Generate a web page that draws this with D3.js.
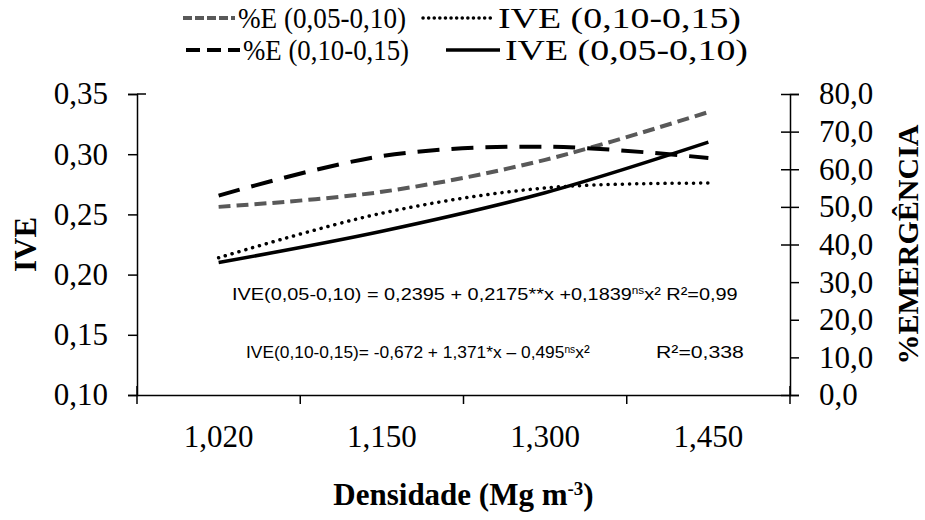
<!DOCTYPE html>
<html>
<head>
<meta charset="utf-8">
<script src="https://cdn.jsdelivr.net/npm/d3@7"></script>
<style>
body { margin: 0; background: #fff; }
svg text { font-family: "Liberation Serif", "Times New Roman", serif; fill: #000; }
svg text.eq { font-family: "Liberation Sans", Arial, sans-serif; }
</style>
</head>
<body>
<div id="chart"></div>
<script>
// data
const categories = ["1,020", "1,150", "1,300", "1,450"]
const ive0510 = [0.210, 0.236, 0.268, 0.310]
const ive1015 = [0.214, 0.251, 0.272, 0.276]
const emerg0510 = [50.0, 54.0, 62.5, 75.2]
const emerg1015 = [53.0, 63.5, 66.0, 63.0]
const leftTicks = [0.10, 0.15, 0.20, 0.25, 0.30, 0.35]
const rightTicks = [0, 10, 20, 30, 40, 50, 60, 70, 80]

const W = 925, H = 520
const MARGIN = { TOP: 94, BOTTOM: 125, LEFT: 137, RIGHT: 135 }
const WIDTH = W - MARGIN.LEFT - MARGIN.RIGHT
const HEIGHT = H - MARGIN.TOP - MARGIN.BOTTOM

const svg = d3.select("#chart").append("svg")
	.attr("width", W)
	.attr("height", H)

const g = svg.append("g")
	.attr("transform", `translate(${MARGIN.LEFT}, ${MARGIN.TOP})`)

const x = d3.scaleBand().domain(categories).range([0, WIDTH])
const yL = d3.scaleLinear().domain([0.10, 0.35]).range([HEIGHT, 0])
const yR = d3.scaleLinear().domain([0, 80]).range([HEIGHT, 0])

const comma = f => v => d3.format(f)(v).replace(".", ",")

// stretch a text horizontally so it spans `target` px from its left edge
function stretch(sel, target) {
	const node = sel.node()
	const w = node.getComputedTextLength()
	const x0 = +sel.attr("x")
	sel.attr("transform", `translate(${x0}, 0) scale(${target / w}, 1) translate(${-x0}, 0)`)
}

// left axis
const leftAxis = g.append("g")
	.call(d3.axisLeft(yL).tickValues(leftTicks).tickSize(9).tickPadding(20).tickFormat(comma(".2f")))
leftAxis.select(".domain").attr("stroke-width", 1.5)
leftAxis.selectAll(".tick line").attr("stroke-width", 1.5)
leftAxis.selectAll(".tick text").attr("font-size", 31)
leftAxis.append("line")
	.attr("x1", 0).attr("x2", 9)
	.attr("y1", yL(0.35)).attr("y2", yL(0.35))
	.attr("stroke", "#000").attr("stroke-width", 1.5)

// right axis
const rightAxis = g.append("g")
	.attr("transform", `translate(${WIDTH}, 0)`)
	.call(d3.axisRight(yR).tickValues(rightTicks).tickSize(9).tickPadding(20).tickFormat(comma(".1f")))
rightAxis.select(".domain").attr("stroke-width", 1.5)
rightAxis.selectAll(".tick line").attr("stroke-width", 1.5)
rightAxis.selectAll(".tick text").attr("font-size", 31).attr("text-anchor", "start")
rightAxis.selectAll(".tick")
	.filter(d => d >= 40 || d === 0)
	.append("line")
	.attr("x1", -9).attr("x2", 0)
	.attr("stroke", "#000").attr("stroke-width", 1.5)

// x axis: labels at band centres, ticks at band edges
const xAxis = g.append("g")
	.attr("transform", `translate(0, ${HEIGHT})`)
	.call(d3.axisBottom(x).tickSize(0).tickPadding(30))
xAxis.select(".domain").attr("stroke-width", 1.5)
xAxis.selectAll(".tick text").attr("font-size", 31)
const edges = categories.map(c => x(c)).concat([WIDTH])
xAxis.selectAll(".edge")
	.data(edges)
	.enter().append("line")
		.attr("class", "edge")
		.attr("x1", d => d).attr("x2", d => d)
		.attr("y1", (d, i) => (i === 0 || i === edges.length - 1) ? -9 : 0)
		.attr("y2", 9)
		.attr("stroke", "#000").attr("stroke-width", 1.5)

// axis titles
g.append("text")
	.attr("transform", `translate(${-112}, ${HEIGHT / 2}) rotate(-90)`)
	.attr("text-anchor", "middle")
	.attr("dominant-baseline", "central")
	.attr("font-size", 31)
	.attr("font-weight", "bold")
	.text("IVE")

g.append("text")
	.attr("transform", `translate(${WIDTH + 117}, ${HEIGHT / 2}) rotate(-90)`)
	.attr("text-anchor", "middle")
	.attr("dominant-baseline", "central")
	.attr("font-size", 30)
	.attr("font-weight", "bold")
	.text("%EMERGÊNCIA")

const xTitle = svg.append("text")
	.attr("x", MARGIN.LEFT + WIDTH / 2)
	.attr("y", 505)
	.attr("text-anchor", "middle")
	.attr("font-size", 31)
	.attr("font-weight", "bold")
xTitle.append("tspan").text("Densidade (Mg m")
xTitle.append("tspan").attr("font-size", 19).attr("baseline-shift", "super").text("-3")
xTitle.append("tspan").text(")")

// series
const series = [
	{ name: "%E (0,05-0,10)", values: emerg0510, y: yR, color: "#595959", width: 4, dash: "12,6", cap: "butt" },
	{ name: "%E (0,10-0,15)", values: emerg1015, y: yR, color: "#000", width: 4, dash: "22,12", cap: "butt" },
	{ name: "IVE (0,10-0,15)", values: ive1015, y: yL, color: "#000", width: 3.5, dash: "0.1,7", cap: "round" },
	{ name: "IVE (0,05-0,10)", values: ive0510, y: yL, color: "#000", width: 3.5, dash: null, cap: "butt" }
]

const line = s => d3.line()
	.x((d, i) => x(categories[i]) + x.bandwidth() / 2)
	.y(d => s.y(d))
	.curve(d3.curveCatmullRom.alpha(0.5))

g.selectAll(".series")
	.data(series)
	.enter().append("path")
		.attr("class", "series")
		.attr("d", s => line(s)(s.values))
		.attr("fill", "none")
		.attr("stroke", s => s.color)
		.attr("stroke-width", s => s.width)
		.attr("stroke-dasharray", s => s.dash)
		.attr("stroke-linecap", s => s.cap)

// equations
const eq1 = svg.append("text").attr("class", "eq").attr("x", 232).attr("y", 300).attr("font-size", 17)
eq1.append("tspan").text("IVE(0,05-0,10)  = 0,2395 + 0,2175**x +0,1839")
eq1.append("tspan").attr("font-size", 10).attr("baseline-shift", "super").text("ns")
eq1.append("tspan").text("x²  R²=0,99")
stretch(eq1, 506)

const eq2 = svg.append("text").attr("class", "eq").attr("x", 246).attr("y", 358).attr("font-size", 17)
eq2.append("tspan").text("IVE(0,10-0,15)= -0,672 + 1,371*x – 0,495")
eq2.append("tspan").attr("font-size", 10).attr("baseline-shift", "super").text("ns")
eq2.append("tspan").text("x²")
stretch(eq2, 344)
const r2 = svg.append("text").attr("class", "eq").attr("x", 656).attr("y", 358).attr("font-size", 17).text("R²=0,338")
stretch(r2, 88)

// legend
const legendItems = [
	{ s: series[0], lx: 183, lw: 52, tx: 238, tw: 168, y: 18, dash: "9,3" },
	{ s: series[2], lx: 423, lw: 70, tx: 498, tw: 243, y: 18, dash: "0.1,5.5" },
	{ s: series[1], lx: 186, lw: 54, tx: 243, tw: 166, y: 50, dash: "14,7" },
	{ s: series[3], lx: 446, lw: 54, tx: 505, tw: 243, y: 50, dash: null }
]
const legend = svg.append("g")
legend.selectAll("line")
	.data(legendItems)
	.enter().append("line")
		.attr("x1", d => d.lx).attr("x2", d => d.lx + d.lw)
		.attr("y1", d => d.y).attr("y2", d => d.y)
		.attr("stroke", d => d.s.color)
		.attr("stroke-width", d => d.s.width)
		.attr("stroke-dasharray", d => d.dash)
		.attr("stroke-linecap", d => d.s.cap)
legend.selectAll("text")
	.data(legendItems)
	.enter().append("text")
		.attr("x", d => d.tx)
		.attr("y", d => d.y)
		.attr("dominant-baseline", "central")
		.attr("font-size", 29)
		.attr("textLength", d => d.tw)
		.attr("lengthAdjust", "spacingAndGlyphs")
		.text(d => d.s.name)
</script>
</body>
</html>
